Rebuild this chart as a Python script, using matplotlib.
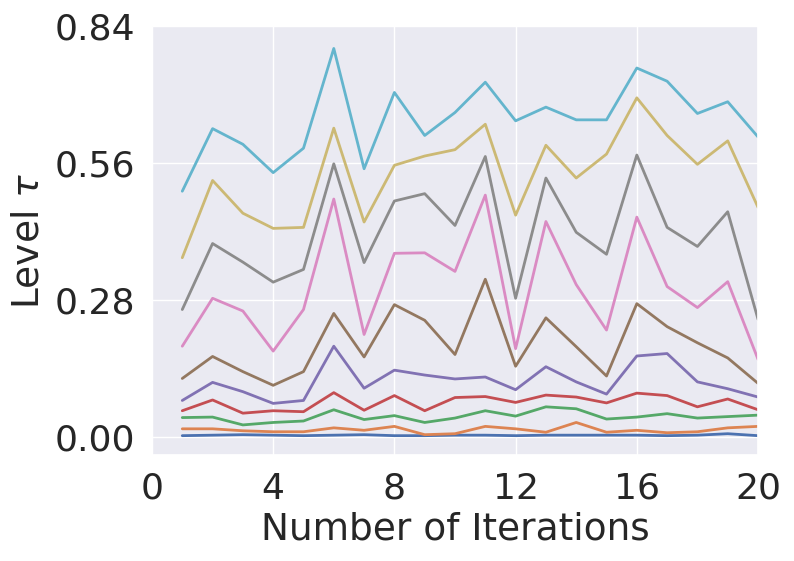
import numpy as np
import matplotlib
matplotlib.use("Agg")
import matplotlib.pyplot as plt
import seaborn as sns

# level tau per iteration, one list per curve (bottom to top)
iterations = list(range(1, 21))

level_0 = [0.002, 0.003, 0.004, 0.003, 0.002, 0.003, 0.004, 0.002, 0.002, 0.003,
           0.003, 0.002, 0.003, 0.003, 0.003, 0.003, 0.002, 0.003, 0.006, 0.002]
level_1 = [0.016, 0.016, 0.012, 0.010, 0.010, 0.018, 0.013, 0.021, 0.004, 0.006,
           0.021, 0.016, 0.009, 0.029, 0.009, 0.013, 0.008, 0.010, 0.018, 0.021]
level_2 = [0.039, 0.040, 0.024, 0.029, 0.032, 0.055, 0.035, 0.043, 0.029, 0.038,
           0.053, 0.042, 0.061, 0.057, 0.036, 0.040, 0.047, 0.038, 0.041, 0.044]
level_3 = [0.053, 0.075, 0.048, 0.053, 0.051, 0.090, 0.054, 0.084, 0.053, 0.080,
           0.082, 0.070, 0.085, 0.081, 0.069, 0.089, 0.084, 0.061, 0.077, 0.055]
level_4 = [0.074, 0.111, 0.092, 0.068, 0.074, 0.185, 0.099, 0.136, 0.126, 0.118,
           0.122, 0.096, 0.143, 0.112, 0.087, 0.165, 0.170, 0.112, 0.098, 0.081]
level_5 = [0.119, 0.164, 0.133, 0.105, 0.133, 0.252, 0.163, 0.270, 0.238, 0.168,
           0.322, 0.144, 0.243, 0.184, 0.124, 0.272, 0.225, 0.192, 0.161, 0.109]
level_6 = [0.185, 0.283, 0.257, 0.175, 0.260, 0.486, 0.209, 0.375, 0.376, 0.338,
           0.494, 0.180, 0.440, 0.311, 0.218, 0.449, 0.307, 0.264, 0.317, 0.158]
level_7 = [0.260, 0.395, 0.357, 0.316, 0.342, 0.558, 0.356, 0.482, 0.497, 0.432,
           0.573, 0.283, 0.529, 0.418, 0.373, 0.576, 0.428, 0.389, 0.460, 0.240]
level_8 = [0.366, 0.524, 0.457, 0.426, 0.428, 0.631, 0.439, 0.555, 0.574, 0.587,
           0.639, 0.453, 0.596, 0.529, 0.578, 0.693, 0.616, 0.557, 0.605, 0.469]
level_9 = [0.502, 0.630, 0.598, 0.540, 0.590, 0.794, 0.548, 0.704, 0.616, 0.663,
           0.725, 0.646, 0.674, 0.648, 0.648, 0.754, 0.727, 0.661, 0.685, 0.613]

levels = [level_0, level_1, level_2, level_3, level_4,
          level_5, level_6, level_7, level_8, level_9]

sns.set_theme(style="darkgrid")
colors = sns.color_palette("deep", 10)

fig = plt.figure(figsize=(7.94, 5.61), dpi=100)
ax = fig.add_axes([0.1914, 0.1889, 0.7633, 0.7648])

for i, lv in enumerate(levels):
    ax.plot(iterations, lv, color=colors[i], linewidth=2.0)

ax.set_xlim(0, 20)
ax.set_xticks([0, 4, 8, 12, 16, 20])
ax.set_yticks([0.00, 0.28, 0.56, 0.84])
ax.set_yticklabels(["0.00", "0.28", "0.56", "0.84"])
ax.tick_params(labelsize=26, colors="#262626", pad=6)
ax.set_xlabel("Number of Iterations", fontsize=27, color="#262626", labelpad=4)
ax.set_ylabel(r"Level $\tau$", fontsize=27, color="#262626", labelpad=6)

fig.savefig("out.png", dpi=100)
